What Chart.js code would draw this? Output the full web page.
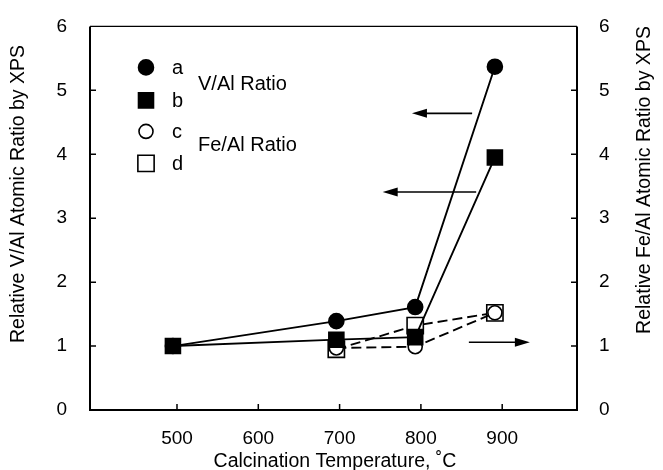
<!DOCTYPE html>
<html>
<head>
<meta charset="utf-8">
<script src="https://cdn.jsdelivr.net/npm/chart.js@4.4.0/dist/chart.umd.min.js"></script>
<style>
  body { margin: 0; background: #fff; }
  canvas { display: block; }
</style>
</head>
<body>
<canvas id="myChart" width="663" height="470"></canvas>
<script>
// Calcination temperature (C) and relative atomic ratios
const tempVAl = [495, 696, 793, 891];
const ratioA = [1.0, 1.39, 1.61, 5.37];
const ratioB = [1.0, 1.10, 1.14, 3.95];
const tempFeAl = [696, 793, 891];
const ratioC = [0.97, 0.99, 1.52];
const ratioD = [0.95, 1.32, 1.52];

const xTicks = [500, 600, 700, 800, 900];
const yTicks = [0, 1, 2, 3, 4, 5, 6];

const seriesNames = ["a", "b", "c", "d"];
const groupNames = ["V/Al Ratio", "Fe/Al Ratio"];
const xTitle = "Calcination Temperature, ˚C";
const yTitle = "Relative V/Al Atomic Ratio by XPS";
const y2Title = "Relative Fe/Al Atomic Ratio by XPS";

// arrows pointing to the axis each pair belongs to (temperature from -> to, ratio)
const arrowFrom = [863, 868, 859];
const arrowTo = [789, 753, 934];
const arrowAt = [4.64, 3.41, 1.06];

const font = "'Liberation Sans', Arial, Helvetica, sans-serif";
Chart.defaults.font.family = font;
Chart.defaults.color = "#000";

const series = (label, xs, ys, axis, style, filled, radius, dash) => ({
  label: label,
  data: xs.map((x, i) => ({ x: x, y: ys[i] })),
  yAxisID: axis,
  pointStyle: style,
  pointRadius: radius,
  pointHoverRadius: radius,
  pointBackgroundColor: filled ? "#000" : "#fff",
  pointBorderColor: "#000",
  pointBorderWidth: 1.6,
  borderColor: "#000",
  borderWidth: 1.9,
  borderDash: dash,
  fill: false,
  tension: 0,
});

const drawSymbol = (ctx, style, filled, r, x, y) => {
  ctx.save();
  ctx.fillStyle = filled ? "#000" : "#fff";
  ctx.strokeStyle = "#000";
  ctx.lineWidth = 1.6;
  ctx.beginPath();
  if (style == "circle") {
    ctx.arc(x, y, r, 0, Math.PI * 2);
  } else {
    const s = r * Math.SQRT1_2;
    ctx.rect(x - s, y - s, 2 * s, 2 * s);
  }
  ctx.fill();
  ctx.stroke();
  ctx.restore();
};

// box round the plot and inward tick marks
const frame = {
  id: "frame",
  afterDatasetsDraw(chart) {
    const { ctx, chartArea: a, scales } = chart;
    ctx.save();
    ctx.strokeStyle = "#000";
    ctx.lineWidth = 2;
    ctx.beginPath();
    ctx.moveTo(a.left, a.top);
    ctx.lineTo(a.left, a.bottom);
    ctx.lineTo(a.right, a.bottom);
    ctx.lineTo(a.right, a.top);
    ctx.stroke();
    ctx.lineWidth = 1.3;
    ctx.beginPath();
    ctx.moveTo(a.left, a.top);
    ctx.lineTo(a.right, a.top);
    ctx.stroke();
    ctx.lineWidth = 1.5;
    ctx.beginPath();
    xTicks.forEach((v) => {
      const px = scales.x.getPixelForValue(v);
      ctx.moveTo(px, a.bottom);
      ctx.lineTo(px, a.bottom - 6);
    });
    yTicks.slice(1, -1).forEach((v) => {
      const py = scales.y.getPixelForValue(v);
      ctx.moveTo(a.left, py);
      ctx.lineTo(a.left + 6, py);
      const py2 = scales.y2.getPixelForValue(v);
      ctx.moveTo(a.right, py2);
      ctx.lineTo(a.right - 6, py2);
    });
    ctx.stroke();
    ctx.restore();
  },
};

const arrows = {
  id: "arrows",
  beforeDatasetsDraw(chart) {
    const { ctx, scales } = chart;
    ctx.save();
    ctx.strokeStyle = "#000";
    ctx.fillStyle = "#000";
    ctx.lineWidth = 1.7;
    arrowFrom.forEach((f, i) => {
      const x0 = scales.x.getPixelForValue(f);
      const x1 = scales.x.getPixelForValue(arrowTo[i]);
      const y = scales.y.getPixelForValue(arrowAt[i]);
      const dir = x1 > x0 ? 1 : -1;
      ctx.beginPath();
      ctx.moveTo(x0, y);
      ctx.lineTo(x1 - dir * 10, y);
      ctx.stroke();
      ctx.beginPath();
      ctx.moveTo(x1, y);
      ctx.lineTo(x1 - dir * 15, y - 4.5);
      ctx.lineTo(x1 - dir * 15, y + 4.5);
      ctx.closePath();
      ctx.fill();
    });
    ctx.restore();
  },
};

const legendAndTitles = {
  id: "legendAndTitles",
  afterDraw(chart) {
    const { ctx, chartArea: a } = chart;
    const styles = ["circle", "rect", "circle", "rect"];
    const filled = [true, true, false, false];
    const radius = [7.5, 10.6, 7, 11.5];
    const rowY = [41, 74, 105, 137];
    ctx.save();
    ctx.fillStyle = "#000";
    ctx.textAlign = "left";
    ctx.textBaseline = "alphabetic";
    ctx.font = "20px " + font;
    seriesNames.forEach((n, i) => {
      const y = a.top + rowY[i];
      drawSymbol(ctx, styles[i], filled[i], radius[i], a.left + 56, y);
      ctx.fillText(n, a.left + 82, y + 6.5);
    });
    ctx.fillText(groupNames[0], a.left + 108, a.top + 64);
    ctx.fillText(groupNames[1], a.left + 108, a.top + 125);

    ctx.font = "19.5px " + font;
    ctx.textAlign = "center";
    ctx.fillText(xTitle, 335, 467);
    ctx.textBaseline = "middle";
    ctx.translate(19, 194);
    ctx.rotate(-Math.PI / 2);
    ctx.fillText(yTitle, 0, 0);
    ctx.restore();
    ctx.save();
    ctx.fillStyle = "#000";
    ctx.font = "19.5px " + font;
    ctx.textAlign = "center";
    ctx.textBaseline = "middle";
    ctx.translate(645, 180);
    ctx.rotate(-Math.PI / 2);
    ctx.fillText(y2Title, 0, 0);
    ctx.restore();
  },
};

const fixedTicks = (list) => (scale) => {
  scale.ticks = list.map((v) => ({ value: v }));
};

const config = {
  type: "line",
  data: {
    datasets: [
      series("a", tempVAl, ratioA, "y", "circle", true, 7.5, []),
      series("b", tempVAl, ratioB, "y", "rect", true, 10.6, []),
      series("c", tempFeAl, ratioC, "y2", "circle", false, 7, [10, 5]),
      series("d", tempFeAl, ratioD, "y2", "rect", false, 11.5, [10, 5]),
    ],
  },
  options: {
    responsive: false,
    animation: false,
    layout: { padding: { top: 18 } },
    plugins: { legend: { display: false }, tooltip: { enabled: false } },
    scales: {
      x: {
        type: "linear",
        min: 393,
        max: 992,
        afterBuildTicks: fixedTicks(xTicks),
        afterFit: (s) => { s.height = 60; },
        grid: { display: false },
        border: { display: false },
        ticks: { font: { size: 19 }, padding: 9, maxRotation: 0, color: "#000" },
      },
      y: {
        position: "left",
        min: 0,
        max: 6,
        afterBuildTicks: fixedTicks(yTicks),
        afterFit: (s) => { s.width = 90; },
        grid: { display: false },
        border: { display: false },
        ticks: { font: { size: 19 }, padding: 15, color: "#000" },
      },
      y2: {
        position: "right",
        min: 0,
        max: 6,
        afterBuildTicks: fixedTicks(yTicks),
        afterFit: (s) => { s.width = 86; },
        grid: { display: false },
        border: { display: false },
        ticks: { font: { size: 19 }, padding: 14, color: "#000" },
      },
    },
  },
  plugins: [arrows, frame, legendAndTitles],
};

const myChart = new Chart(document.getElementById("myChart"), config);
</script>
</body>
</html>
